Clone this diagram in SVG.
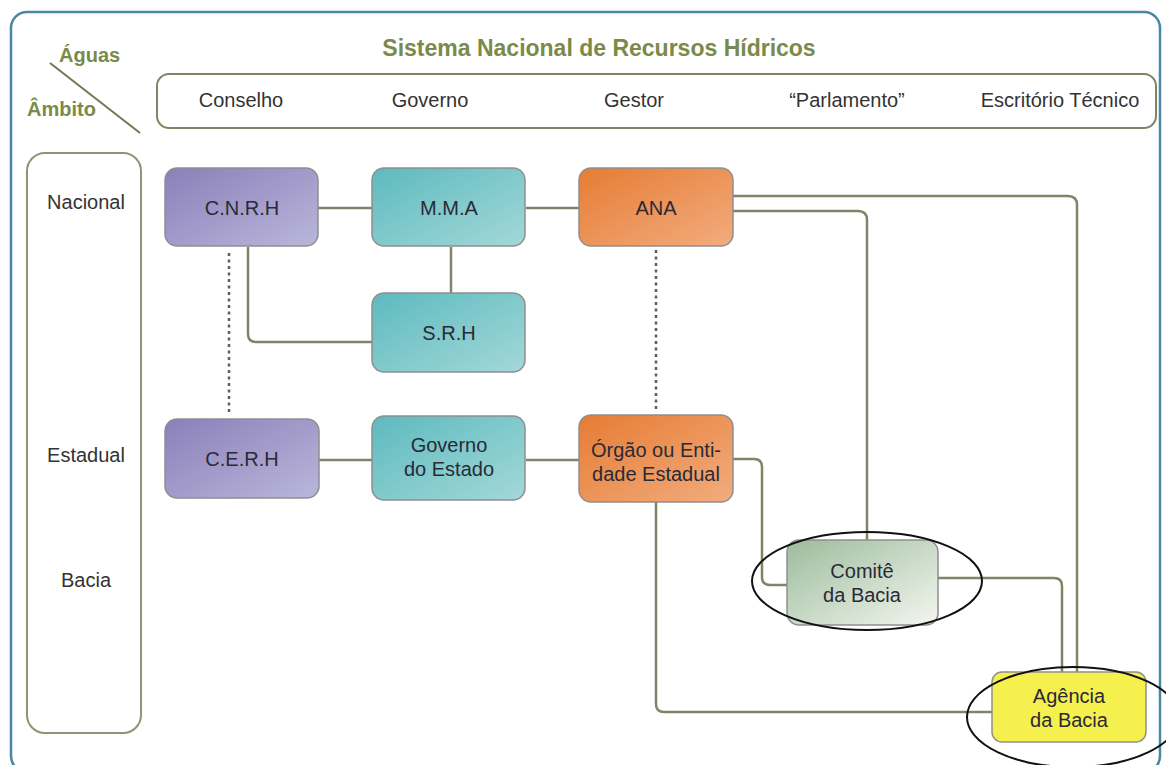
<svg xmlns="http://www.w3.org/2000/svg" width="1166" height="765" viewBox="0 0 1166 765">
<defs>
<linearGradient id="gPurple" x1="0" y1="0" x2="1" y2="1"><stop offset="0" stop-color="#8a80ba"/><stop offset="1" stop-color="#bab6da"/></linearGradient>
<linearGradient id="gTeal" x1="0" y1="0" x2="1" y2="1"><stop offset="0" stop-color="#5dbabf"/><stop offset="1" stop-color="#a3d8d8"/></linearGradient>
<linearGradient id="gOrange" x1="0" y1="0" x2="1" y2="1"><stop offset="0" stop-color="#e67c34"/><stop offset="1" stop-color="#f2ac7e"/></linearGradient>
<linearGradient id="gGreen" x1="0" y1="0" x2="1" y2="1"><stop offset="0" stop-color="#9cbc9c"/><stop offset="1" stop-color="#f4f6f0"/></linearGradient>
<style>
.hdr{font-family:"Liberation Sans",Arial,sans-serif;font-size:20px;fill:#333;text-anchor:middle;}
.ttl{font-family:"Liberation Sans",Arial,sans-serif;font-weight:bold;fill:#7a8a4a;}
.node rect{stroke:#8f8f8f;stroke-width:1.5;}
.node text{font-family:"Liberation Sans",Arial,sans-serif;font-size:20px;fill:#2a2a36;text-anchor:middle;}
.conn{fill:none;stroke:#7f8666;stroke-width:2.5;}
.dot{fill:none;stroke:#5e5e5e;stroke-width:2.5;stroke-dasharray:3 3.5;}
.ell{fill:none;stroke:#111;stroke-width:2;}
</style>
</defs>
<rect width="1166" height="765" fill="#ffffff"/>
<rect x="11" y="12" width="1149" height="760" rx="16" fill="#ffffff" stroke="#4a87a6" stroke-width="2.5"/>

<g id="header">
<text class="ttl" x="599" y="56" font-size="23" text-anchor="middle">Sistema Nacional de Recursos Hídricos</text>
<text class="ttl" x="59" y="62" font-size="20">Águas</text>
<text class="ttl" x="27" y="116" font-size="20">Âmbito</text>
<line x1="50" y1="63" x2="140" y2="133" stroke="#6f7a55" stroke-width="2"/>
<rect x="157" y="74" width="999" height="54" rx="12" fill="#ffffff" stroke="#7f8666" stroke-width="2"/>
<text class="hdr" x="241" y="107">Conselho</text>
<text class="hdr" x="430" y="107">Governo</text>
<text class="hdr" x="634" y="107">Gestor</text>
<text class="hdr" x="847" y="107">“Parlamento”</text>
<text class="hdr" x="1060" y="107">Escritório Técnico</text>
</g>

<g id="ambito">
<rect x="27" y="153" width="114" height="580" rx="18" fill="#ffffff" stroke="#8f9470" stroke-width="2"/>
<text class="hdr" x="86" y="209">Nacional</text>
<text class="hdr" x="86" y="462">Estadual</text>
<text class="hdr" x="86" y="587">Bacia</text>
</g>

<g id="connectors">
<line class="conn" x1="318" y1="208" x2="372" y2="208"/>
<line class="conn" x1="526" y1="208" x2="579" y2="208"/>
<line class="conn" x1="451" y1="247" x2="451" y2="293"/>
<path class="conn" d="M248 247 V334 Q248 342 256 342 H372"/>
<line class="conn" x1="319" y1="460" x2="372" y2="460"/>
<line class="conn" x1="526" y1="460" x2="579" y2="460"/>
<path class="conn" d="M733 196 H1068 Q1077 196 1077 205 V672"/>
<path class="conn" d="M733 211 H858 Q867 211 867 220 V540"/>
<path class="conn" d="M733 459 H754 Q762 459 762 467 V577 Q762 585 770 585 H787"/>
<path class="conn" d="M938 578 H1054 Q1062 578 1062 586 V672"/>
<path class="conn" d="M656 502 V704 Q656 712 664 712 H992"/>
<line class="dot" x1="229" y1="253" x2="229" y2="414"/>
<line class="dot" x1="656" y1="250" x2="656" y2="412"/>
</g>

<g id="cnrh" class="node"><rect x="165" y="168" width="153" height="78" rx="12" fill="url(#gPurple)"/><text x="242" y="215">C.N.R.H</text></g>
<g id="mma" class="node"><rect x="372" y="168" width="153" height="78" rx="12" fill="url(#gTeal)"/><text x="449" y="215">M.M.A</text></g>
<g id="ana" class="node"><rect x="579" y="168" width="154" height="78" rx="12" fill="url(#gOrange)"/><text x="656" y="215">ANA</text></g>
<g id="srh" class="node"><rect x="372" y="293" width="153" height="79" rx="12" fill="url(#gTeal)"/><text x="449" y="340">S.R.H</text></g>
<g id="cerh" class="node"><rect x="165" y="419" width="154" height="79" rx="12" fill="url(#gPurple)"/><text x="242" y="466">C.E.R.H</text></g>
<g id="govest" class="node"><rect x="372" y="416" width="153" height="84" rx="12" fill="url(#gTeal)"/><text x="449" y="452">Governo</text><text x="449" y="476">do Estado</text></g>
<g id="orgao" class="node"><rect x="579" y="415" width="154" height="87" rx="12" fill="url(#gOrange)"/><text x="656" y="457">Órgão ou Enti-</text><text x="656" y="481">dade Estadual</text></g>
<g id="comite" class="node"><rect x="787" y="540" width="151" height="85" rx="12" fill="url(#gGreen)" stroke="#9aa69a"/><text x="862" y="578">Comitê</text><text x="862" y="602">da Bacia</text></g>
<g id="agencia" class="node"><rect x="992" y="672" width="154" height="70" rx="10" fill="#f6f04e" stroke="#b5ad5c"/><text x="1069" y="703">Agência</text><text x="1069" y="727">da Bacia</text></g>

<g id="highlights">
<ellipse class="ell" cx="867" cy="581" rx="115" ry="49"/>
<ellipse class="ell" cx="1073" cy="717" rx="106" ry="50"/>
</g>
</svg>
